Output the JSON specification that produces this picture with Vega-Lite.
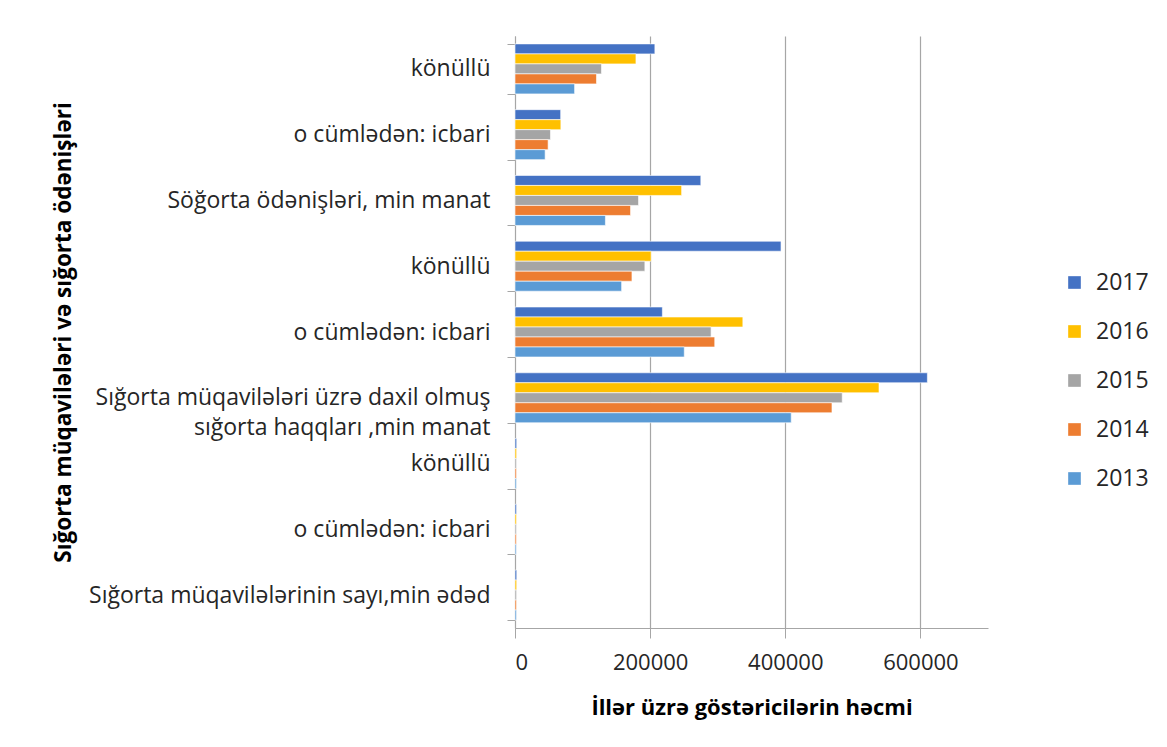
{
  "$schema": "https://vega.github.io/schema/vega-lite/v6.json",
  "autosize": "none",
  "width": 473,
  "height": 592,
  "padding": {"left": 515, "top": 36, "right": 179, "bottom": 119},
  "background": "white",
  "config": {
    "view": {"stroke": null},
    "font": "Open Sans",
    "axis": {"labelFont": "Open Sans", "titleFont": "Open Sans", "labelColor": "#262626", "titleColor": "#000000"}
  },
  "data": {
    "values": [
      {"cat": "1|könüllü", "year": "2017", "value": 207000},
      {"cat": "1|könüllü", "year": "2016", "value": 179000},
      {"cat": "1|könüllü", "year": "2015", "value": 128000},
      {"cat": "1|könüllü", "year": "2014", "value": 120600},
      {"cat": "1|könüllü", "year": "2013", "value": 88200},
      {"cat": "2|o cümlədən: icbari", "year": "2017", "value": 67600},
      {"cat": "2|o cümlədən: icbari", "year": "2016", "value": 67900},
      {"cat": "2|o cümlədən: icbari", "year": "2015", "value": 52500},
      {"cat": "2|o cümlədən: icbari", "year": "2014", "value": 49000},
      {"cat": "2|o cümlədən: icbari", "year": "2013", "value": 44600},
      {"cat": "3|Söğorta ödənişləri, min manat", "year": "2017", "value": 275000},
      {"cat": "3|Söğorta ödənişləri, min manat", "year": "2016", "value": 246600},
      {"cat": "3|Söğorta ödənişləri, min manat", "year": "2015", "value": 182800},
      {"cat": "3|Söğorta ödənişləri, min manat", "year": "2014", "value": 171000},
      {"cat": "3|Söğorta ödənişləri, min manat", "year": "2013", "value": 133800},
      {"cat": "4|könüllü", "year": "2017", "value": 393700},
      {"cat": "4|könüllü", "year": "2016", "value": 201500},
      {"cat": "4|könüllü", "year": "2015", "value": 192200},
      {"cat": "4|könüllü", "year": "2014", "value": 173100},
      {"cat": "4|könüllü", "year": "2013", "value": 157800},
      {"cat": "5|o cümlədən: icbari", "year": "2017", "value": 218100},
      {"cat": "5|o cümlədən: icbari", "year": "2016", "value": 337200},
      {"cat": "5|o cümlədən: icbari", "year": "2015", "value": 290200},
      {"cat": "5|o cümlədən: icbari", "year": "2014", "value": 295600},
      {"cat": "5|o cümlədən: icbari", "year": "2013", "value": 250500},
      {"cat": "6|Sığorta müqavilələri üzrə daxil olmuş|sığorta haqqları ,min manat", "year": "2017", "value": 610300},
      {"cat": "6|Sığorta müqavilələri üzrə daxil olmuş|sığorta haqqları ,min manat", "year": "2016", "value": 538700},
      {"cat": "6|Sığorta müqavilələri üzrə daxil olmuş|sığorta haqqları ,min manat", "year": "2015", "value": 484300},
      {"cat": "6|Sığorta müqavilələri üzrə daxil olmuş|sığorta haqqları ,min manat", "year": "2014", "value": 469100},
      {"cat": "6|Sığorta müqavilələri üzrə daxil olmuş|sığorta haqqları ,min manat", "year": "2013", "value": 408800},
      {"cat": "7|könüllü", "year": "2017", "value": 2500},
      {"cat": "7|könüllü", "year": "2016", "value": 2400},
      {"cat": "7|könüllü", "year": "2015", "value": 2200},
      {"cat": "7|könüllü", "year": "2014", "value": 2100},
      {"cat": "7|könüllü", "year": "2013", "value": 2000},
      {"cat": "8|o cümlədən: icbari", "year": "2017", "value": 2300},
      {"cat": "8|o cümlədən: icbari", "year": "2016", "value": 2200},
      {"cat": "8|o cümlədən: icbari", "year": "2015", "value": 2000},
      {"cat": "8|o cümlədən: icbari", "year": "2014", "value": 1900},
      {"cat": "8|o cümlədən: icbari", "year": "2013", "value": 1800},
      {"cat": "9|Sığorta müqavilələrinin sayı,min ədəd", "year": "2017", "value": 2600},
      {"cat": "9|Sığorta müqavilələrinin sayı,min ədəd", "year": "2016", "value": 2500},
      {"cat": "9|Sığorta müqavilələrinin sayı,min ədəd", "year": "2015", "value": 2300},
      {"cat": "9|Sığorta müqavilələrinin sayı,min ədəd", "year": "2014", "value": 2200},
      {"cat": "9|Sığorta müqavilələrinin sayı,min ədəd", "year": "2013", "value": 2100}
    ]
  },
  "mark": {"type": "bar", "stroke": "white", "strokeWidth": 0.6},
  "encoding": {
    "y": {
      "field": "cat",
      "type": "nominal",
      "sort": "ascending",
      "scale": {"paddingInner": 0.24, "paddingOuter": 0.12},
      "axis": {
        "title": "Sığorta müqavilələri və sığorta ödənişləri",
        "titleFontSize": 22.5,
        "titleFontWeight": "bold",
        "titleX": -440,
        "titleAngle": -90,
        "labelExpr": "slice(split(datum.value, '|'), 1)",
        "labelFontSize": 23,
        "labelLineHeight": 30,
        "labelPadding": 17,
        "labelLimit": 0,
        "tickBand": "extent",
        "tickSize": 8,
        "tickColor": "#a6a6a6",
        "domainColor": "#a6a6a6",
        "grid": false,
        "encode": {
          "labels": {
            "update": {
              "y": {"scale": "y", "field": "value", "band": 0.5, "offset": {"signal": "indexof(datum.value, '6|') == 0 ? -15 : 0"}}
            }
          }
        }
      }
    },
    "yOffset": {
      "field": "year",
      "type": "nominal",
      "scale": {"domain": ["2017", "2016", "2015", "2014", "2013"]}
    },
    "x": {
      "field": "value",
      "type": "quantitative",
      "scale": {"domain": [0, 700000], "nice": false},
      "axis": {
        "title": "İllər üzrə göstəricilərin həcmi",
        "titleFontSize": 22,
        "titleFontWeight": "bold",
        "titlePadding": 24,
        "values": [0, 200000, 400000, 600000],
        "format": "d",
        "labelFontSize": 22,
        "labelPadding": 14,
        "tickSize": 10,
        "tickColor": "#a6a6a6",
        "domainColor": "#a6a6a6",
        "gridColor": "#a6a6a6",
        "gridWidth": 1.2
      }
    },
    "color": {
      "field": "year",
      "type": "nominal",
      "scale": {
        "domain": ["2017", "2016", "2015", "2014", "2013"],
        "range": ["#4472C4", "#FFC000", "#A5A5A5", "#ED7D31", "#5B9BD5"]
      },
      "legend": {
        "title": null,
        "orient": "none",
        "legendX": 548,
        "legendY": 235,
        "symbolType": "square",
        "symbolSize": 160,
        "symbolStrokeWidth": 0,
        "labelFontSize": 23,
        "labelColor": "#262626",
        "labelFont": "Open Sans",
        "rowPadding": 25,
        "labelOffset": 10
      }
    }
  }
}
